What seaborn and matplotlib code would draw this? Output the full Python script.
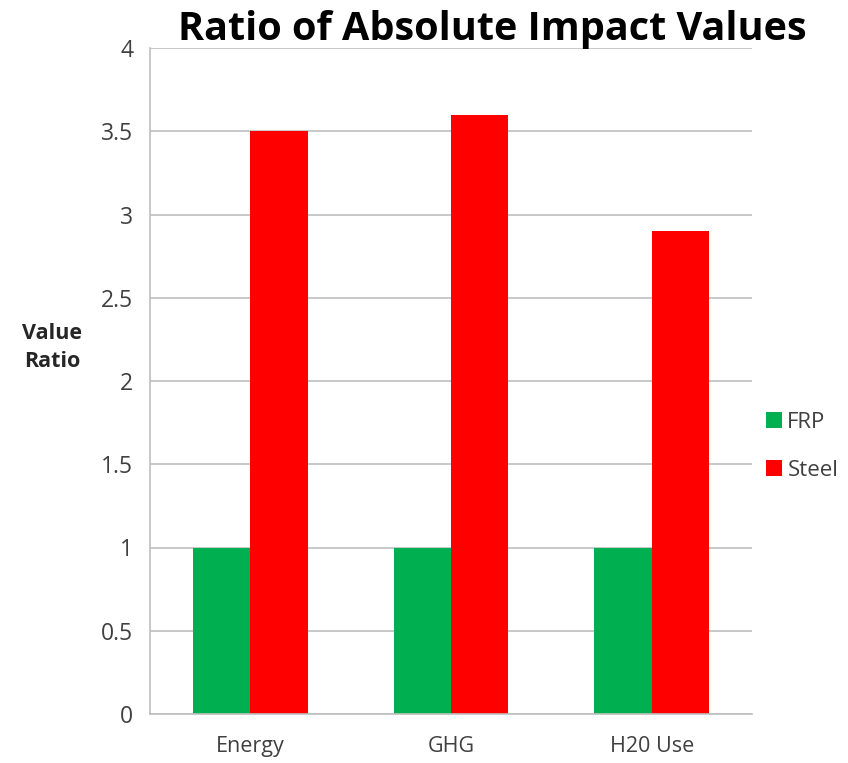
import matplotlib
matplotlib.use("Agg")
import matplotlib.pyplot as plt
import seaborn as sns
import pandas as pd
from matplotlib.patches import Patch

categories = ["Energy", "GHG", "H20 Use"]
frp_values = [1.0, 1.0, 1.0]
steel_values = [3.5, 3.6, 2.9]
series_names = ["FRP", "Steel"]
y_ticks = [0, 0.5, 1, 1.5, 2, 2.5, 3, 3.5, 4]
y_tick_labels = ["0", "0.5", "1", "1.5", "2", "2.5", "3", "3.5", "4"]

df = pd.DataFrame({
    "Category": categories * 2,
    "Series": [series_names[0]] * 3 + [series_names[1]] * 3,
    "Value": frp_values + steel_values,
})

sns.set_style("white")
plt.rcParams['font.family'] = ['Open Sans', 'DejaVu Sans']

colors = {"FRP": "#00B050", "Steel": "#FF0000"}
text_color = "#404040"
grid_color = "#BFBFBF"

fig = plt.figure(figsize=(8.48, 7.63), dpi=100)
ax = fig.add_axes([150/848, 49/763, 602/848, 666/763])

sns.barplot(data=df, x="Category", y="Value", hue="Series", palette=colors,
            width=0.57, ax=ax, saturation=1, legend=False, edgecolor="none")

ax.set_ylim(0, 4)
ax.set_xlim(-0.5, 2.5)
ax.set_yticks(y_ticks)
ax.set_yticklabels(y_tick_labels, fontsize=16.5, color=text_color)
ax.set_xticks(range(len(categories)))
ax.set_xticklabels(categories, fontsize=15.5, color=text_color)
for t in y_ticks:
    ax.axhline(t, color=grid_color, lw=1.2, zorder=0)
ax.set_axisbelow(True)

for s in ["top", "right"]:
    ax.spines[s].set_visible(False)
for s in ["left", "bottom"]:
    ax.spines[s].set_color(grid_color)
    ax.spines[s].set_linewidth(1.2)

ax.tick_params(axis="y", length=7, color=grid_color, width=1.2, pad=5, direction="out")
ax.tick_params(axis="x", length=0, pad=16)
ax.set_xticks([-0.5, 0.5, 1.5, 2.5], minor=True)
ax.tick_params(axis="x", which="minor", length=7, color=grid_color, width=1.2, direction="out")

ax.set_xlabel("")
ax.set_ylabel("Value\nRatio", fontsize=15.5, fontweight="bold", rotation=0,
              color="#262626", labelpad=0, linespacing=1.45, ha="center", va="center")
ax.yaxis.set_label_coords(-0.162, 0.55)

fig.text(0.581, 0.961, "Ratio of Absolute Impact Values", ha="center", va="center",
         fontsize=28.5, fontweight="bold", color="black")

handles = [Patch(facecolor=colors[n], edgecolor="none") for n in series_names]
leg = fig.legend(handles, series_names, loc="center left", bbox_to_anchor=(0.88, 0.415),
                 frameon=False, fontsize=16, handlelength=0.7, handleheight=0.7,
                 handletextpad=0.25, labelspacing=1.2)
for t in leg.get_texts():
    t.set_color(text_color)

fig.savefig("out.png", dpi=100)
